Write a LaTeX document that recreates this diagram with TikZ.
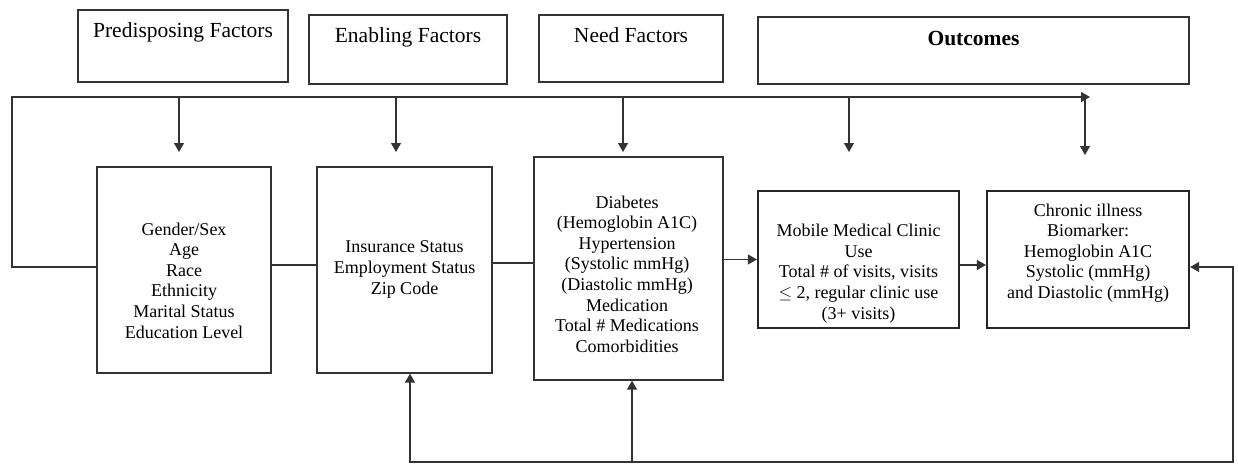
\documentclass[tikz,border=0pt]{standalone}
\usepackage{fontspec}
\setmainfont{Liberation Serif}
\usetikzlibrary{arrows.meta}
\begin{document}
\begin{tikzpicture}[x=1pt,y=-1pt,
  hdr/.style={draw=black!80, line width=1.2pt, inner sep=0pt},
  hdrtxt/.style={anchor=base, font=\fontsize{21.5}{25}\selectfont, inner sep=0pt},
  box/.style={draw=black!80, line width=1.3pt, inner sep=0pt},
  boxb/.style={draw=black!85, line width=2.2pt, inner sep=0pt},
  txt/.style={align=center, font=\fontsize{18}{20.6}\selectfont, inner sep=0pt},
  ln/.style={draw=black!80, line width=1.1pt},
  arr/.style={ln, -{Triangle[length=9pt,width=10pt]}},
  arrb/.style={ln, {Triangle[length=9pt,width=10pt]}-{Triangle[length=9pt,width=10pt]}}
]
\useasboundingbox (0,0) rectangle (1238,468);
% header boxes
\node[hdr, minimum width=210pt, minimum height=72pt] (h1) at (183,46) {};
\node[hdr, minimum width=198pt, minimum height=69pt] (h2) at (408,49.5) {};
\node[hdr, minimum width=184pt, minimum height=67pt] (h3) at (631,48.5) {};
\node[hdr, minimum width=431pt, minimum height=67pt] (h4) at (973.5,50.5) {};
\node[hdrtxt] (h1t) at (183,38) {Predisposing Factors};
\node[hdrtxt] (h2t) at (408,43) {Enabling Factors};
\node[hdrtxt] (h3t) at (631,43) {Need Factors};
\node[hdrtxt] (h4t) at (973.5,46) {\bfseries Outcomes};
% main boxes
\node[box, minimum width=174pt, minimum height=206pt] (b1) at (184,270) {};
\node[box, minimum width=175pt, minimum height=206pt] (b2) at (404.5,270) {};
\node[box, minimum width=189pt, minimum height=223pt] (b3) at (628.5,268.5) {};
\node[boxb, minimum width=201pt, minimum height=137pt] (b4) at (858.5,259.5) {};
\node[boxb, minimum width=202pt, minimum height=137pt] (b5) at (1088,259.5) {};
\node[txt] (t1) at (184,280.5) {Gender/Sex\\Age\\Race\\Ethnicity\\Marital Status\\Education Level};
\node[txt] (t2) at (404.5,269.5) {Insurance Status\\Employment Status\\Zip Code};
\node[txt] (t3) at (627,274) {Diabetes\\(Hemoglobin A1C)\\Hypertension\\(Systolic mmHg)\\(Diastolic mmHg)\\Medication\\Total \# Medications\\Comorbidities};
\node[txt] (t4) at (858.5,273.5) {Mobile Medical Clinic\\Use\\Total \# of visits, visits\\$\leq$ 2, regular clinic use\\(3+ visits)};
\node[txt] (t5) at (1088,253) {Chronic illness\\Biomarker:\\Hemoglobin A1C\\Systolic (mmHg)\\and Diastolic (mmHg)};
% coordinates
\coordinate (ll) at (12,267);
\coordinate (lc) at (12,97);
\coordinate (topend) at (1090,97);
\coordinate (d1) at (179,97);   \coordinate (e1) at (179,152);
\coordinate (d2) at (396,97);   \coordinate (e2) at (396,152);
\coordinate (d3) at (623,97);   \coordinate (e3) at (623,152);
\coordinate (d4) at (849,97);   \coordinate (e4) at (849,152);
\coordinate (d5) at (1085,97);  \coordinate (e5) at (1085,155);
\coordinate (rc) at (1233,462);
\coordinate (rr) at (1233,267);
\coordinate (fb2) at (410,462);
\coordinate (fb3) at (632,462);
\coordinate (h12) at (0,265);
\coordinate (h23) at (0,263);
\coordinate (h45) at (0,265);
% top loop
\draw[arr] (b1.west |- ll) -- (ll) -- (lc) -- (topend);
\draw[arr] (d1) -- (e1);
\draw[arr] (d2) -- (e2);
\draw[arr] (d3) -- (e3);
\draw[arr] (d4) -- (e4);
\draw[arr] (d5) -- (e5);
% horizontal links
\draw[ln] (b1.east |- h12) -- (b2.west |- h12);
\draw[ln] (b2.east |- h23) -- (b3.west |- h23);
\draw[arr] (b3.east |- b4.west) -- (b4.west);
\draw[arr] (b4.east |- h45) -- (b5.west |- h45);
% bottom feedback
\draw[arrb] (fb2 |- b2.south) -- (fb2) -- (rc) -- (rr) -- (b5.east |- rr);
\draw[arr] (fb3) -- (fb3 |- b3.south);
\end{tikzpicture}
\end{document}
